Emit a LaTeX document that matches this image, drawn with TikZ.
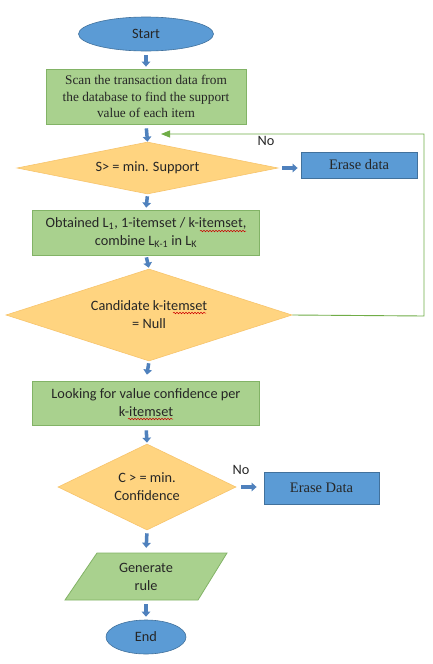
\documentclass[tikz,border=0pt]{standalone}
\usepackage{fontspec}
\setmainfont{Liberation Serif}
\newfontfamily\calib{Carlito}
\usetikzlibrary{shapes.geometric,arrows.meta,decorations.pathmorphing}
\definecolor{gfill}{HTML}{A9D18E}
\definecolor{gdraw}{HTML}{82B366}
\definecolor{ofill}{HTML}{FFD480}
\definecolor{odraw}{HTML}{F7C46C}
\definecolor{bfill}{HTML}{5B9BD5}
\definecolor{bdraw}{HTML}{41719C}
\definecolor{arr}{HTML}{4F81BD}
\definecolor{loopc}{HTML}{70AD47}
\tikzset{
  term/.style={ellipse, fill=bfill, draw=bdraw, line width=0.6pt, inner sep=0pt, font=\calib\fontsize{14.3}{16}\selectfont, text=black!85},
  procbox/.style={rectangle, fill=gfill, draw=gdraw, line width=0.8pt, inner sep=0pt, align=center, text=black!85},
  sanstext/.style={font=\calib\fontsize{14.3}{18}\selectfont},
  seriftext/.style={font=\fontsize{13.3}{16.5}\selectfont},
  decision/.style={diamond, fill=ofill, draw=odraw, line width=0.6pt, inner sep=0pt, align=center, font=\calib\fontsize{14.3}{18}\selectfont, text=black!85},
  erasebox/.style={rectangle, fill=bfill, draw=bdraw, line width=0.8pt, inner sep=0pt, font=\fontsize{14.5}{17}\selectfont, text=black!85},
  blockarrow/.style={draw=arr, line width=3.5pt, -{Triangle[width=8.5pt,length=5pt]}},
  looparrow/.style={draw=loopc, line width=0.9pt, -{Triangle[width=7pt,length=9pt]}},
  nolabel/.style={font=\calib\fontsize{14.3}{16}\selectfont, text=black!85},
  squiggle/.style={draw=red!80!black, line width=0.5pt, decorate, decoration={snake, amplitude=0.8pt, segment length=3pt}}
}
\begin{document}
\begin{tikzpicture}[x=1pt,y=-1pt]
\useasboundingbox[fill=white] (0,0) rectangle (432,664);

% parallelogram (drawn first, text node on top)
\fill[gfill] (97,553) -- (227,553) -- (198,600) -- (65,600) -- cycle;
\draw[gdraw, line width=0.8pt] (97,553) -- (227,553) -- (198,600) -- (65,600) -- cycle;

\node[term, minimum width=135pt, minimum height=34pt] (start) at (146,34) {Start};
\node[procbox, seriftext, minimum width=200pt, minimum height=55pt] (scan) at (146,96.5)
  {Scan the transaction data from\\the database to find the support\\value of each item};
\node[decision, aspect=5, minimum width=261pt, minimum height=52pt] (d1) at (147.5,168) {S> = min. Support};
\node[erasebox, minimum width=116pt, minimum height=26pt] (e1) at (359,165) {Erase data};
\node[procbox, sanstext, minimum width=227pt, minimum height=45pt] (obt) at (146,232.5)
  {Obtained L\textsubscript{1}, 1-itemset / k-itemset,\\combine L\textsubscript{K-1} in L\textsubscript{K}};
\node[decision, aspect=3.1, minimum width=286pt, minimum height=92pt] (d2) at (149,315) {Candidate k-itemset\\= Null};
\node[procbox, sanstext, minimum width=227pt, minimum height=44pt] (look) at (146,403)
  {Looking for value confidence per\\k-itemset};
\node[decision, aspect=2.07, minimum width=178pt, minimum height=86pt] (d3) at (147,487) {C > = min.\\Confidence};
\node[erasebox, minimum width=115pt, minimum height=32pt] (e2) at (321.5,488) {Erase Data};
\node[sanstext, align=center, minimum height=47pt, minimum width=100pt, inner sep=0pt, text=black!85] (gen) at (146,576.5) {Generate\\rule};
\node[term, minimum width=80pt, minimum height=34pt] (end) at (146,637) {End};

% spell-check squiggles
\draw[squiggle] (200,231) -- (246,231);
\draw[squiggle] (173,313) -- (206,313);
\draw[squiggle] (128,419) -- (173,419);

% block arrows
\draw[blockarrow, shorten <=4pt, shorten >=2pt] (start.south) -- (scan.north);
\draw[blockarrow, shorten <=4pt, shorten >=0pt] (scan.south) -- (d1.north);
\draw[blockarrow, shorten <=2pt, shorten >=2pt] (d1.south) -- (obt.north);
\draw[blockarrow, shorten <=2pt, shorten >=1pt] (obt.south) -- (d2.north);
\draw[blockarrow, shorten <=2pt, shorten >=6pt] (d2.south) -- (look.north);
\draw[blockarrow, shorten <=5pt, shorten >=1pt] (look.south) -- (d3.north);
\draw[blockarrow, shorten <=3pt, shorten >=5pt] (d3.south) -- (gen.north);
\draw[blockarrow, shorten <=4pt, shorten >=3pt] (gen.south) -- (end.north);
\draw[blockarrow, shorten <=4pt, shorten >=3pt] (d1.east) -- (d1.east -| e1.west);
\draw[blockarrow, shorten <=5pt, shorten >=7pt] (d3.east) -- (d3.east -| e2.west);

% loop back
\coordinate (loopend) at (161,134);
\coordinate (loopcorner) at (424,316);
\draw[looparrow] (d2.east) -- (loopcorner) |- (loopend);

% labels
\node[nolabel] (no1) at (266,141) {No};
\node[nolabel] (no2) at (241,470) {No};
\end{tikzpicture}
\end{document}
